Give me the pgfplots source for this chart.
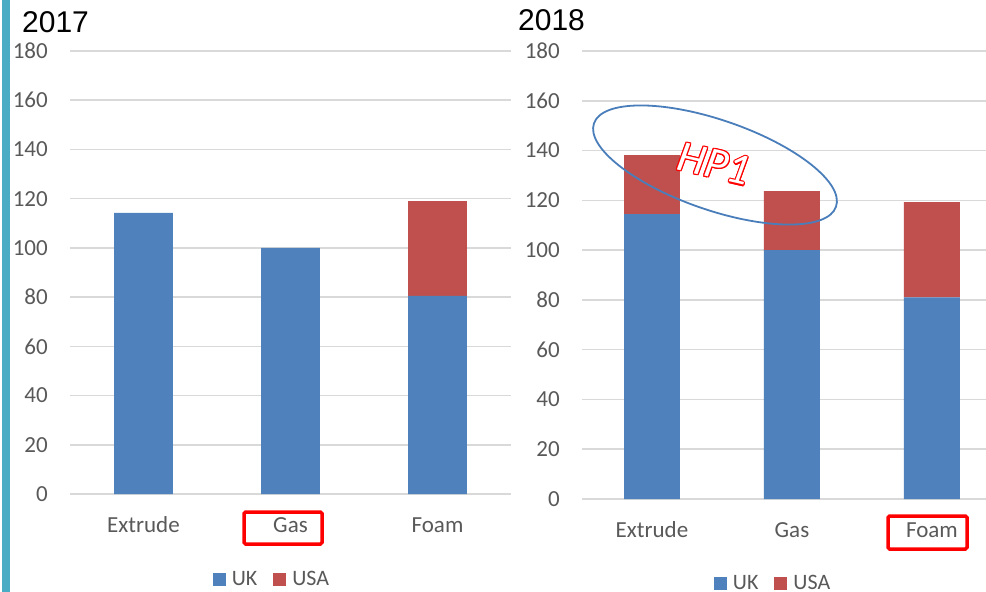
\documentclass[border=0pt]{standalone}
\usepackage{fontspec}
\setmainfont{Carlito}
\newfontfamily\arialf{Liberation Sans}
\usepackage{pgfplots}
\pgfplotsset{compat=1.18}
\definecolor{ukblue}{HTML}{4F81BD}
\definecolor{usared}{HTML}{C0504D}
\definecolor{gridgray}{HTML}{D9D9D9}
\definecolor{labgray}{HTML}{595959}
\definecolor{sidebar}{HTML}{4BACC6}
\definecolor{ellblue}{HTML}{4A7EBB}
\newcommand\hpfont{\itshape\fontsize{44}{44}\selectfont}
\pgfplotsset{
  sqlegend/.style={legend image code/.code={\fill[##1] (0pt,-7pt) rectangle (13pt,6pt);}},
  mystyle/.style={
    scale only axis, xmin=-0.5, ymin=0, ymax=180,
    ytick={0,20,...,180}, xtick={0,1,2}, xticklabels={Extrude,Gas,Foam},
    ymajorgrids, grid style={gridgray, line width=1.5pt},
    axis line style={draw=none}, major tick style={draw=none},
    ybar stacked, bar width=0.4,
    tick label style={font=\fontsize{23}{23}\selectfont, text=labgray},
    /pgf/number format/assume math mode=true,
    yticklabel style={inner sep=0pt, anchor=east, xshift=-22pt},
    xticklabel style={inner sep=0pt, anchor=center, yshift=-31pt},
    legend style={draw=none, fill=none, legend columns=2,
      font=\fontsize{22}{22}\selectfont, text=labgray, anchor=center,
      inner sep=1pt,
      /tikz/every odd column/.append style={column sep=4pt},
      /tikz/every even column/.append style={column sep=14pt}},
  }
}
\begin{document}
\begin{tikzpicture}[x=1pt,y=1pt]
\useasboundingbox (0,0) rectangle (986,-592);
\fill[sidebar] (2,0) rectangle (9.5,-592);

\begin{axis}[mystyle, at={(70pt,-494pt)}, anchor=south west,
  width=441pt, height=443pt, xmax=2.5,
  legend style={at={(0.458,-0.192)}}]
\addplot[fill=ukblue, draw=none, sqlegend] coordinates {(0,114.2) (1,100) (2,80.5)};
\addplot[fill=usared, draw=none, sqlegend] coordinates {(0,0) (1,0) (2,38.5)};
\legend{UK,USA}
\end{axis}

\begin{axis}[mystyle, at={(582pt,-499pt)}, anchor=south west,
  width=404pt, height=448pt, xmax=2.386,
  legend style={at={(0.473,-0.1875)}}]
\addplot[fill=ukblue, draw=none, sqlegend] coordinates {(0,114.5) (1,100) (2,81)};
\addplot[fill=usared, draw=none, sqlegend] coordinates {(0,23.7) (1,23.7) (2,38.3)};
\legend{UK,USA}
\end{axis}

\node[anchor=west, inner sep=0pt, font=\arialf\fontsize{30}{30}\selectfont] at (22,-22) {2017};
\node[anchor=west, inner sep=0pt, font=\arialf\fontsize{30}{30}\selectfont] at (518,-20) {2018};

\draw[red, line width=3.5pt, rounded corners=1.5pt] (244,-512) rectangle (322,-544);
\draw[red, line width=3.5pt, rounded corners=1.5pt] (888,-516) rectangle (967,-549);

\draw[ellblue, line width=1.8pt, rotate around={-19:(715,-165)}] (715,-165) ellipse [x radius=128pt, y radius=45pt];

\begin{scope}[shift={(714,-164)}, rotate=-13, transform shape]
  \foreach \a in {0,30,...,330} \node[text=red, inner sep=0pt] at (\a:1.2pt) {\hpfont HP1};
  \node[text=white, inner sep=0pt] at (0,0) {\hpfont HP1};
\end{scope}
\end{tikzpicture}
\end{document}
